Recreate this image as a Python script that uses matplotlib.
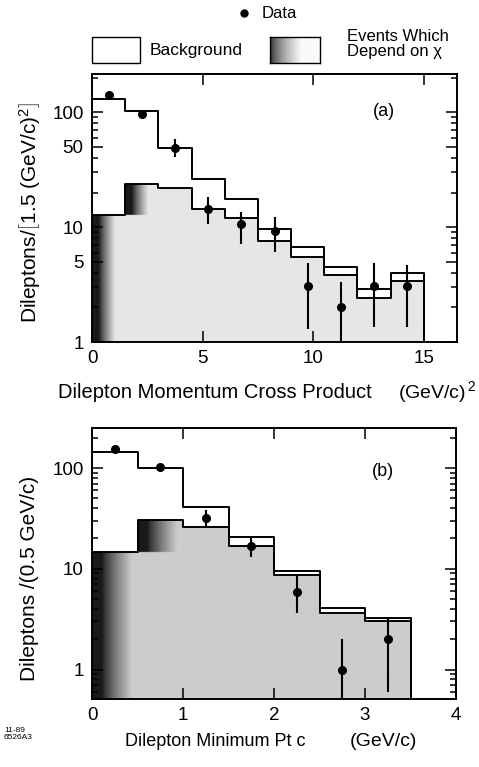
"""
Dilepton distributions: background vs events which depend on chi.
(a) momentum cross product, (b) minimum Pt.
"""

import numpy as np
import matplotlib.pyplot as plt
from matplotlib.patches import Rectangle, Polygon
from matplotlib.ticker import FixedLocator, NullFormatter, LogLocator

plt.rcParams['font.family'] = ['Liberation Sans', 'DejaVu Sans']
plt.rcParams['mathtext.fontset'] = 'custom'
plt.rcParams['mathtext.rm'] = 'Liberation Sans'
plt.rcParams['mathtext.it'] = 'Liberation Sans:italic'

# ---- panel (a): bins of 1.5 (GeV/c)^2 ----
edges_a = [0, 1.5, 3, 4.5, 6, 7.5, 9, 10.5, 12, 13.5, 15]
total_a = [129, 102, 49, 26, 17.4, 9.7, 6.7, 4.5, 2.9, 4.0]
chi_a = [12.7, 23.5, 21.7, 14.5, 12.0, 7.6, 5.5, 3.8, 2.4, 3.4]
data_x_a = [0.75, 2.25, 3.75, 5.25, 6.75, 8.25, 9.75, 11.25, 12.75, 14.25]
data_a = [140, 97, 49, 14.3, 10.6, 9.2, 3.07, 2.03, 3.07, 3.07]
data_lo_a = [140, 97, 41, 10.6, 7.1, 6.1, 1.3, 0.5, 1.34, 1.36]
data_hi_a = [140, 97, 58, 18.3, 13.4, 12.2, 4.9, 3.3, 4.9, 4.7]

# ---- panel (b): bins of 0.5 GeV/c ----
edges_b = [0, 0.5, 1, 1.5, 2, 2.5, 3, 3.5]
total_b = [146, 100, 41.5, 20.8, 9.6, 4.05, 3.26]
chi_b = [14.6, 30.6, 25.9, 16.9, 8.7, 3.66, 3.02]
data_x_b = [0.25, 0.75, 1.25, 1.75, 2.25, 2.75, 3.25]
data_b = [155, 102, 31.8, 16.9, 5.9, 1.0, 2.0]
data_lo_b = [155, 102, 26.2, 13.2, 3.66, 0.3, 0.6]
data_hi_b = [155, 102, 38.6, 20.1, 8.5, 1.99, 3.34]

W, H = 479, 767
fig = plt.figure(figsize=(W / 100, H / 100), dpi=100)


def frac(x0, y0, x1, y1):
    # pixel box -> figure fraction [left, bottom, width, height]
    return [x0 / W, 1 - y1 / H, (x1 - x0) / W, (y1 - y0) / H]


def step_xy(edges, vals, base):
    xs, ys = [edges[0]], [base]
    for i, v in enumerate(vals):
        xs += [edges[i], edges[i + 1]]
        ys += [v, v]
    xs.append(edges[-1])
    ys.append(base)
    return xs, ys


def shade(ax, edges, chi, xlim, ylim, px_per_unit, dark_w, fade_w, base_grey):
    # grey fill with a dark "shadow" along the left boundary of the region
    nx, ny = 500, 400
    fx = (np.arange(nx) + 0.5) / nx
    fy = (np.arange(ny) + 0.5) / ny
    xd = xlim[0] + fx * (xlim[1] - xlim[0])
    ld = np.log10(ylim[0]) + fy * (np.log10(ylim[1]) - np.log10(ylim[0]))
    yd = 10 ** ld
    img = np.ones((ny, nx))
    for j, y in enumerate(yd):
        left = None
        for i, v in enumerate(chi):
            if v >= y:
                left = edges[i]
                break
        if left is None:
            continue
        d = (xd - left) * px_per_unit
        t = np.clip((d - dark_w) / fade_w, 0, 1) ** 0.8
        img[j] = np.where(d < dark_w, 0.1, 0.1 + (base_grey - 0.1) * t)
    im = ax.imshow(img, cmap='gray', vmin=0, vmax=1, origin='lower',
                   extent=(0, 1, 0, 1), transform=ax.transAxes,
                   aspect='auto', zorder=1, interpolation='bilinear')
    xs, ys = step_xy(edges, chi, ylim[0])
    poly = Polygon(list(zip(xs, ys)), closed=True, transform=ax.transData,
                   facecolor='none', edgecolor='none')
    im.set_clip_path(poly)


def panel(rect, edges, total, chi, dx, dy, dlo, dhi, xlim, ylim,
          xticks, ymajor, ylabels, px_per_unit, dark_w, fade_w, base_grey, tag):
    ax = fig.add_axes(rect)
    ax.set_yscale('log')
    ax.set_xlim(*xlim)
    ax.set_ylim(*ylim)
    shade(ax, edges, chi, xlim, ylim, px_per_unit, dark_w, fade_w, base_grey)

    xs, ys = step_xy(edges, total, ylim[0])
    ax.plot(xs, ys, color='black', lw=1.4, zorder=3)
    xs, ys = step_xy(edges, chi, ylim[0])
    ax.plot(xs, ys, color='black', lw=1.4, zorder=3)

    dy = np.array(dy)
    yerr = [dy - np.array(dlo), np.array(dhi) - dy]
    ax.errorbar(dx, dy, yerr=yerr, fmt='o', color='black', ms=5.5,
                elinewidth=1.5, capsize=0, zorder=4)

    ax.set_xticks(xticks)
    ax.yaxis.set_major_locator(FixedLocator(ymajor))
    ax.set_yticklabels(ylabels)
    ax.yaxis.set_minor_locator(LogLocator(base=10, subs=np.arange(2, 10)))
    ax.yaxis.set_minor_formatter(NullFormatter())
    ax.tick_params(which='both', direction='in', top=True, right=True,
                   labelsize=13.5, width=1.1, pad=6)
    ax.tick_params(which='major', length=8)
    ax.tick_params(which='minor', length=4)
    for s in ax.spines.values():
        s.set_linewidth(1.4)
    ax.text(0.8, 0.86 if tag == '(a)' else 0.84, tag, transform=ax.transAxes,
            ha='center', va='center', fontsize=13)
    return ax


panel(frac(92, 74, 457, 342), edges_a, total_a, chi_a, data_x_a, data_a,
      data_lo_a, data_hi_a, (0, 16.5), (1, 215), [0, 5, 10, 15],
      [1, 5, 10, 50, 100], ['1', '5', '10', '50', '100'],
      22.1, 7, 16, 0.9, '(a)')

panel(frac(92, 428, 456, 699), edges_b, total_b, chi_b, data_x_b, data_b,
      data_lo_b, data_hi_b, (0, 4), (0.51, 250), [0, 1, 2, 3, 4],
      [1, 10, 100], ['1', '10', '100'],
      91, 10, 30, 0.8, '(b)')

# axis titles
fig.text(58 / W, 1 - 392 / H, 'Dilepton Momentum Cross Product', fontsize=14.5,
         ha='left', va='center')
fig.text(398 / W, 1 - 392 / H, r'(GeV/c)$^{\,2}$', fontsize=14,
         ha='left', va='center')
fig.text(125 / W, 1 - 741 / H, 'Dilepton Minimum Pt c', fontsize=13,
         ha='left', va='center')
fig.text(350 / W, 1 - 741 / H, '(GeV/c)', fontsize=14, ha='left', va='center')
fig.text(30 / W, 1 - 213 / H,
         r'Dileptons/$\left[\mathrm{1.5\ (GeV/c)^{2}}\right]$',
         fontsize=15, rotation=90, ha='center', va='center')
fig.text(30 / W, 1 - 578 / H, 'Dileptons /(0.5 GeV/c)', fontsize=15,
         rotation=90, ha='center', va='center')
fig.text(4 / W, 1 - 734 / H, '11-89\n6526A3', fontsize=6, ha='left',
         va='center', linespacing=1.0)

# legend
fig.lines.append(plt.Line2D([244 / W], [1 - 13 / H], marker='o', ms=5,
                            color='black', transform=fig.transFigure))
fig.text(262 / W, 1 - 13 / H, 'Data', fontsize=12, ha='left', va='center')
fig.patches.append(Rectangle((92 / W, 1 - 63 / H), 48 / W, 26 / H,
                             transform=fig.transFigure, facecolor='white',
                             edgecolor='black', lw=1.0))
fig.text(150 / W, 1 - 50 / H, 'Background', fontsize=12.5, ha='left',
         va='center')
lax = fig.add_axes(frac(270, 37, 320, 63))
grad = np.clip(np.linspace(0.0, 1.6, 200), 0, 1) ** 0.6
grad = 0.1 + 0.88 * grad
lax.imshow(grad[None, :], cmap='gray', vmin=0, vmax=1, aspect='auto',
           extent=(0, 1, 0, 1))
lax.set_xticks([])
lax.set_yticks([])
for s in lax.spines.values():
    s.set_linewidth(1.0)
fig.text(347 / W, 1 - 44 / H, 'Events Which\nDepend on \u03c7', fontsize=12,
         ha='left', va='center', linespacing=1.0)

fig.savefig('out.png', dpi=100)
